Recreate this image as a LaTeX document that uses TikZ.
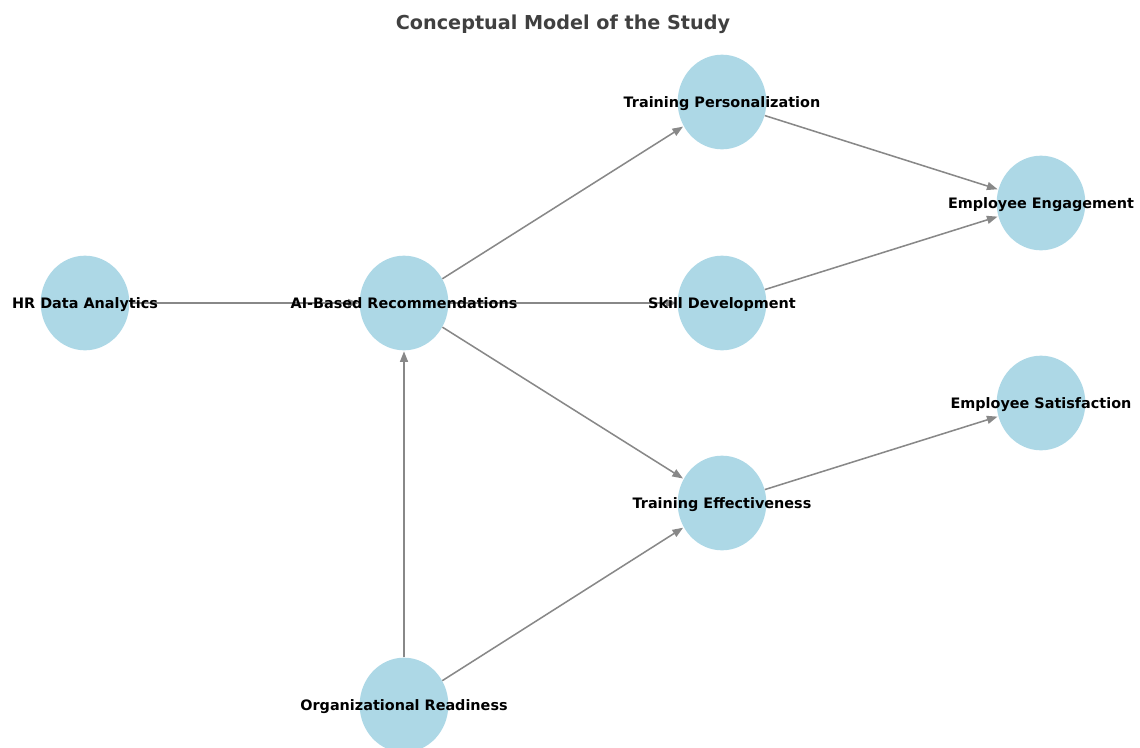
\documentclass[tikz,border=0pt]{standalone}
\usepackage{fontspec}
\setmainfont{DejaVu Sans}
\usetikzlibrary{shapes.geometric,arrows.meta}
\definecolor{nodeblue}{HTML}{ADD8E6}
\definecolor{edgegray}{HTML}{888888}
\definecolor{titlegray}{HTML}{404040}
\begin{document}
\begin{tikzpicture}[x=0.75pt,y=-0.75pt,
  bubble/.style={ellipse,fill=nodeblue,draw=none,minimum width=66.5pt,minimum height=71pt,inner sep=0pt},
  lbl/.style={font=\fontsize{10.8pt}{12pt}\selectfont\bfseries,text=black,inner sep=0pt,anchor=base,yshift=-4pt},
  link/.style={draw=edgegray,line width=1.15pt,-{Triangle[length=8pt,width=6pt]},shorten >=0.5pt}]
\useasboundingbox (0,0) rectangle (1140,747);
\node[font=\fontsize{14.4pt}{16pt}\selectfont\bfseries,text=titlegray,anchor=base] (title) at (563,29) {Conceptual Model of the Study};
% circles
\node[bubble] (hr) at (85,303) {};
\node[bubble] (ai) at (404,303) {};
\node[bubble] (tp) at (722,102) {};
\node[bubble] (sd) at (722,303) {};
\node[bubble] (ee) at (1041,203) {};
\node[bubble] (es) at (1041,403) {};
\node[bubble] (te) at (722,503) {};
\node[bubble] (or) at (404,705) {};
% edges
\draw[link] (hr) -- (ai);
\draw[link] (ai) -- (tp);
\draw[link] (ai) -- (sd);
\draw[link] (ai) -- (te);
\draw[link] (or) -- (ai);
\draw[link] (or) -- (te);
\draw[link] (tp) -- (ee);
\draw[link] (sd) -- (ee);
\draw[link] (te) -- (es);
% labels
\node[lbl] (hrl) at (hr) {HR Data Analytics};
\node[lbl] (ail) at (ai) {AI-Based Recommendations};
\node[lbl] (tpl) at (tp) {Training Personalization};
\node[lbl] (sdl) at (sd) {Skill Development};
\node[lbl] (eel) at (ee) {Employee Engagement};
\node[lbl] (esl) at (es) {Employee Satisfaction};
\node[lbl] (tel) at (te) {Training Effectiveness};
\node[lbl] (orl) at (or) {Organizational Readiness};
\end{tikzpicture}
\end{document}
